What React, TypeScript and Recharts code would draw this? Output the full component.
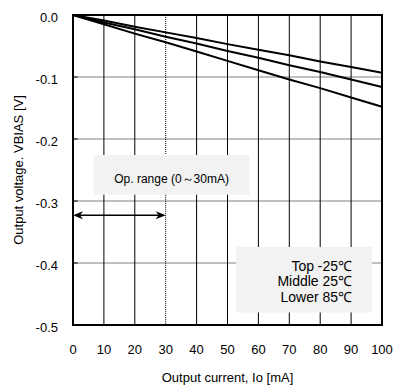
import {
  ComposedChart, Line, XAxis, YAxis, CartesianGrid, ReferenceArea, ReferenceLine, Label,
} from 'recharts';

const current = [0, 10, 20, 30, 40, 50, 60, 70, 80, 90, 100];
const vTop = [0, -0.009, -0.019, -0.028, -0.037, -0.047, -0.056, -0.065, -0.075, -0.084, -0.093];
const vMid = [0, -0.012, -0.023, -0.035, -0.046, -0.058, -0.069, -0.081, -0.092, -0.104, -0.116];
const vLow = [0, -0.015, -0.030, -0.044, -0.059, -0.074, -0.089, -0.104, -0.118, -0.133, -0.148];

const xTicks = [0, 10, 20, 30, 40, 50, 60, 70, 80, 90, 100];
const yTicks = [0, -0.1, -0.2, -0.3, -0.4, -0.5];
const gridX = [10, 20, 40, 50, 60, 70, 80, 90];
const legendLines = ['Top -25℃', 'Middle 25℃', 'Lower 85℃'];
const opRangeText = 'Op. range (0～30mA)';
const opRange = [0, 30];
const arrowY = -0.323;

const FONT = "Arial, 'Liberation Sans', sans-serif";

const data = current.map((x, i) => ({ x, top: vTop[i], mid: vMid[i], low: vLow[i] }));

function ArrowLine(props: any) {
  const { x1, y1, x2, y2 } = props;
  if (x1 == null) return null;
  const L = 10;
  const W = 4;
  const head = (tx: number, dir: number) =>
    `M${tx},${y1} L${tx + dir * L},${y1 - W} L${tx + dir * (L - 3)},${y1} L${tx + dir * L},${y1 + W} Z`;
  return (
    <g>
      <line x1={x1 + 4} y1={y1} x2={x2 - 4} y2={y2} stroke="#000" strokeWidth={1.5} />
      <path d={head(x1, 1)} fill="#000" />
      <path d={head(x2, -1)} fill="#000" />
    </g>
  );
}

function OpLabel(props: any) {
  const vb = props.viewBox;
  if (!vb) return null;
  return (
    <text x={vb.x + vb.width / 2} y={vb.y + vb.height / 2 + 4} textAnchor="middle"
      dominantBaseline="central" fontSize={12} fontFamily={FONT} fill="#000">
      {opRangeText}
    </text>
  );
}

function LegendLabel(props: any) {
  const vb = props.viewBox;
  if (!vb) return null;
  const rx = vb.x + vb.width - 20;
  return (
    <text textAnchor="end" fontSize={14} fontFamily={FONT} fill="#000">
      {legendLines.map((t, i) => (
        <tspan key={t} x={rx} y={vb.y + 24 + i * 15.5}>{t}</tspan>
      ))}
    </text>
  );
}

export default function App() {
  return (
    <div>
      <style>{'body{margin:0}'}</style>
      <ComposedChart width={393} height={390} data={data}
        margin={{ top: 15, right: 11, bottom: 35, left: 0 }}>
        <CartesianGrid horizontal vertical={false} stroke="#808080" strokeWidth={1} />
        <CartesianGrid horizontal={false} verticalValues={gridX} stroke="#000" strokeWidth={1} />
        <XAxis type="number" dataKey="x" domain={[0, 100]} ticks={xTicks} axisLine={false}
          tickLine={false} tickMargin={14} height={30} interval={0}
          tick={{ fill: '#000', fontSize: 13, fontFamily: FONT }}>
          <Label value="Output current, Io [mA]" position="insideBottom" offset={-27}
            style={{ fill: '#000', fontSize: 13, fontFamily: FONT }} />
        </XAxis>
        <YAxis type="number" domain={[-0.5, 0]} ticks={yTicks} width={73} axisLine={false}
          tickLine={false} tickMargin={9} interval={0}
          tickFormatter={(v: number) => (v === 0 ? '0.0' : v.toFixed(1))}
          tick={{ fill: '#000', fontSize: 13, fontFamily: FONT, dy: 2 }}>
          <Label value="Output voltage. VBIAS [V]" angle={-90} position="insideLeft" offset={18}
            style={{ fill: '#000', fontSize: 13, fontFamily: FONT, textAnchor: 'middle' }} />
        </YAxis>
        {yTicks.map(v => (
          <ReferenceLine key={v} segment={[{ x: 0, y: v }, { x: 1.5, y: v }]} stroke="#000" strokeWidth={1} />
        ))}
        <ReferenceLine segment={[{ x: opRange[1], y: 0 }, { x: opRange[1], y: -0.2258 }]}
          stroke="#000" strokeWidth={1} strokeDasharray="1 1" />
        <ReferenceLine segment={[{ x: opRange[1], y: -0.29 }, { x: opRange[1], y: -0.5 }]}
          stroke="#000" strokeWidth={1} strokeDasharray="1 1" />
        <ReferenceArea x1={6.7} x2={57.1} y1={-0.2258} y2={-0.29} fill="#f2f2f2" fillOpacity={1}
          stroke="none" label={<OpLabel />} />
        <ReferenceArea x1={52.8} x2={96.8} y1={-0.374} y2={-0.48} fill="#f2f2f2" fillOpacity={1}
          stroke="none" label={<LegendLabel />} />
        <ReferenceLine segment={[{ x: opRange[0], y: arrowY }, { x: opRange[1], y: arrowY }]}
          shape={(p: any) => <ArrowLine {...p} />} />
        <Line dataKey="top" stroke="#000" strokeWidth={2} dot={false} isAnimationActive={false} />
        <Line dataKey="mid" stroke="#000" strokeWidth={2} dot={false} isAnimationActive={false} />
        <Line dataKey="low" stroke="#000" strokeWidth={2} dot={false} isAnimationActive={false} />
        <ReferenceArea x1={0} x2={100} y1={-0.5} y2={0} fill="none" stroke="#000" strokeWidth={2}
          fillOpacity={0} />
      </ComposedChart>
    </div>
  );
}
